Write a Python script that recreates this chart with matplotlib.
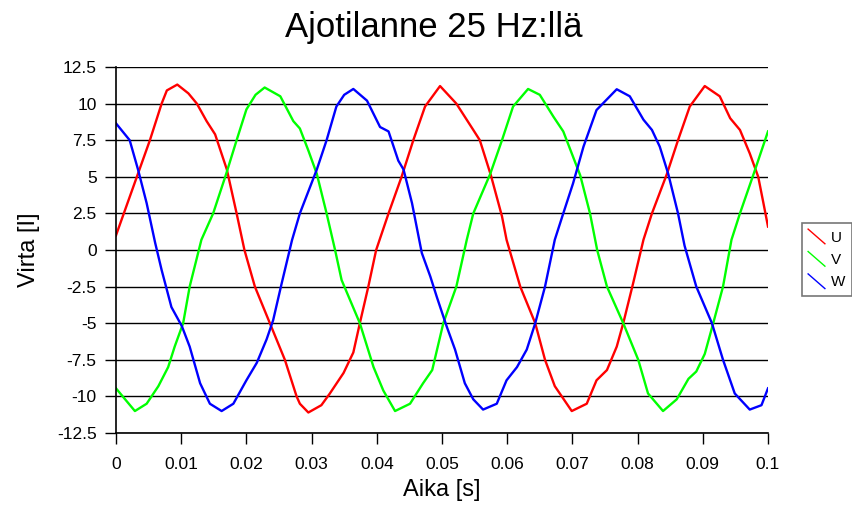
import matplotlib
matplotlib.use("Agg")
from matplotlib import pyplot as plt
from matplotlib.lines import Line2D
from matplotlib.legend_handler import HandlerBase
from matplotlib.ticker import FuncFormatter

# phase currents (time in s, current in A)
u_time = [0.0, 0.0032, 0.0052, 0.0070, 0.0078, 0.0094, 0.0111, 0.0124, 0.0139, 0.0152,
          0.0170, 0.0185, 0.0197, 0.0213, 0.0236, 0.0259, 0.0277, 0.0282, 0.0295, 0.0315,
          0.0328, 0.0349, 0.0364, 0.0374, 0.0387, 0.0399, 0.0418, 0.0438, 0.0456, 0.0474,
          0.0497, 0.0522, 0.0548, 0.0558, 0.0575, 0.0592, 0.0599, 0.0620, 0.0643, 0.0658,
          0.0673, 0.0699, 0.0722, 0.0737, 0.0753, 0.0768, 0.0778, 0.0793, 0.0809, 0.0822,
          0.0845, 0.0862, 0.0880, 0.0903, 0.0926, 0.0942, 0.0957, 0.0972, 0.0985, 0.0993,
          0.1000]
u_current = [1.0, 5.0, 7.5, 10.0, 10.9, 11.3, 10.7, 10.0, 8.8, 7.9,
             5.5, 2.5, 0.0, -2.5, -5.0, -7.5, -10.0, -10.5, -11.1, -10.6,
             -9.8, -8.4, -7.0, -5.0, -2.5, 0.0, 2.5, 5.0, 7.5, 9.8,
             11.2, 10.0, 8.2, 7.5, 5.1, 2.3, 0.7, -2.5, -5.0, -7.5,
             -9.3, -11.0, -10.5, -8.9, -8.2, -6.6, -5.0, -2.3, 0.7, 2.5,
             5.2, 7.5, 9.8, 11.2, 10.5, 9.0, 8.2, 6.6, 5.0, 3.2,
             1.6]

v_time = [0.0, 0.0014, 0.0029, 0.0047, 0.0065, 0.0080, 0.0090, 0.0103, 0.0113, 0.0131,
          0.0149, 0.0169, 0.0185, 0.0200, 0.0214, 0.0228, 0.0252, 0.0272, 0.0282, 0.0295,
          0.0308, 0.0323, 0.0336, 0.0346, 0.0374, 0.0395, 0.0410, 0.0428, 0.0451, 0.0471,
          0.0485, 0.0502, 0.0522, 0.0538, 0.0548, 0.0574, 0.0592, 0.0609, 0.0632, 0.0650,
          0.0671, 0.0686, 0.0699, 0.0712, 0.0727, 0.0738, 0.0753, 0.0778, 0.0801, 0.0816,
          0.0839, 0.0860, 0.0878, 0.0890, 0.0903, 0.0916, 0.0931, 0.0944, 0.0957, 0.0978,
          0.1000]
v_current = [-9.45, -10.2, -11.0, -10.5, -9.3, -8.0, -6.6, -5.0, -2.5, 0.7,
             2.5, 5.2, 7.5, 9.6, 10.6, 11.1, 10.5, 8.8, 8.3, 6.8,
             5.2, 2.5, 0.0, -2.05, -5.0, -8.0, -9.6, -11.0, -10.5, -9.1,
             -8.2, -5.0, -2.5, 0.7, 2.5, 5.2, 7.5, 9.8, 11.0, 10.6,
             9.1, 8.1, 6.6, 5.1, 2.5, 0.0, -2.5, -5.0, -7.5, -9.8,
             -11.0, -10.2, -8.8, -8.3, -7.1, -5.0, -2.5, 0.7, 2.5, 5.2,
             8.1]

w_time = [0.0, 0.0021, 0.0034, 0.0047, 0.0060, 0.0070, 0.0085, 0.0101, 0.0113, 0.0129,
          0.0144, 0.0162, 0.0180, 0.0200, 0.0216, 0.0231, 0.0241, 0.0254, 0.0270, 0.0282,
          0.0308, 0.0323, 0.0338, 0.0350, 0.0364, 0.0385, 0.0405, 0.0418, 0.0433, 0.0441,
          0.0454, 0.0469, 0.0482, 0.0492, 0.0507, 0.0520, 0.0535, 0.0548, 0.0563, 0.0584,
          0.0599, 0.0615, 0.0630, 0.0643, 0.0658, 0.0673, 0.0686, 0.0701, 0.0717, 0.0737,
          0.0768, 0.0788, 0.0809, 0.0822, 0.0834, 0.0847, 0.0862, 0.0872, 0.0890, 0.0914,
          0.0931, 0.0949, 0.0972, 0.0990, 0.1000]
w_current = [8.65, 7.5, 5.46, 3.2, 0.5, -1.37, -3.9, -5.2, -6.6, -9.1,
             -10.5, -11.0, -10.5, -8.9, -7.7, -6.1, -4.8, -2.3, 0.68, 2.5,
             5.5, 7.5, 9.8, 10.6, 11.0, 10.2, 8.4, 8.1, 6.1, 5.5,
             3.2, -0.2, -1.8, -3.2, -5.2, -6.8, -9.1, -10.2, -10.9, -10.5,
             -8.9, -8.0, -6.8, -5.0, -2.5, 0.7, 2.5, 4.55, 7.06, 9.56,
             10.98, 10.5, 8.9, 8.2, 7.06, 5.2, 2.5, 0.3, -2.5, -5.0,
             -7.5, -9.8, -10.9, -10.6, -9.45]

phases = [("U", u_time, u_current, "#ff0000"),
          ("V", v_time, v_current, "#00ff00"),
          ("W", w_time, w_current, "#0000ff")]

y_ticks = [12.5, 10, 7.5, 5, 2.5, 0, -2.5, -5, -7.5, -10, -12.5]
x_ticks = [0, 0.01, 0.02, 0.03, 0.04, 0.05, 0.06, 0.07, 0.08, 0.09, 0.1]


class HandlerDiagonal(HandlerBase):
    # Excel style legend key: a short falling line
    def create_artists(self, legend, orig_handle, xdescent, ydescent,
                       width, height, fontsize, trans):
        x0, y0 = -xdescent, -ydescent
        line = Line2D([x0, x0 + width], [y0 + height, y0],
                      color=orig_handle.get_color(), linewidth=1.0)
        line.set_transform(trans)
        return [line]


def main() -> None:
    plt.rcParams['font.family'] = ['Liberation Sans', 'DejaVu Sans']
    plt.rcParams['axes.unicode_minus'] = False

    fig = plt.figure(figsize=(8.53, 5.08), dpi=100)
    ax = fig.add_axes([116 / 853, 1 - 433 / 508, (768 - 116) / 853, (433 - 67) / 508])

    handles = []
    for name, t, i, color in phases:
        line, = ax.plot(t, i, color=color, linewidth=1.7, label=name)
        handles.append(line)

    ax.set_xlim(0, 0.1)
    ax.set_ylim(-12.5, 12.5)
    ax.set_xticks(x_ticks)
    ax.set_yticks(y_ticks)
    ax.xaxis.set_major_formatter(FuncFormatter(lambda v, p: '%g' % v))
    ax.yaxis.set_major_formatter(FuncFormatter(lambda v, p: '%g' % v))
    ax.tick_params(axis='both', direction='out', length=8, width=1,
                   labelsize=12.5, color='black')
    ax.tick_params(axis='x', pad=9)
    ax.tick_params(axis='y', pad=6)
    ax.grid(axis='y', color='black', linewidth=1)
    ax.set_axisbelow(True)
    for side in ('top', 'right'):
        ax.spines[side].set_visible(False)
    for side in ('left', 'bottom'):
        ax.spines[side].set_linewidth(1.2)

    ax.set_xlabel('Aika [s]', fontsize=17, labelpad=5)
    ax.set_ylabel('Virta [I]', fontsize=17, labelpad=12)
    fig.suptitle('Ajotilanne 25 Hz:llä', fontsize=25, x=0.508, y=0.978)

    leg = fig.legend(handles=handles, handler_map={Line2D: HandlerDiagonal()},
                     loc='upper left', bbox_to_anchor=(802 / 853, 1 - 223 / 508),
                     fontsize=11, frameon=True, fancybox=False,
                     handlelength=1.1, handleheight=1.1, handletextpad=0.4,
                     labelspacing=0.45, borderpad=0.4, borderaxespad=0)
    leg.get_frame().set_edgecolor('#555555')
    leg.get_frame().set_linewidth(1.2)

    fig.savefig('out.png', dpi=100)


if __name__ == '__main__':
    main()
